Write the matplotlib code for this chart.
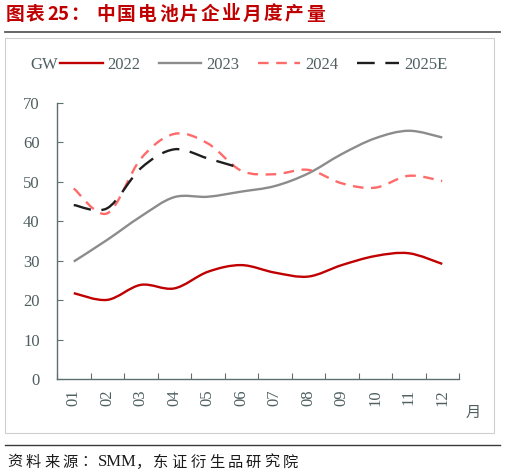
import numpy as np
import matplotlib
matplotlib.use('Agg')
import matplotlib.pyplot as plt
from matplotlib.path import Path
from matplotlib.patches import PathPatch, Rectangle
from matplotlib.lines import Line2D

plt.rcParams['font.family'] = ['Liberation Serif', 'Noto Sans CJK SC']

# data (GW)
months = ['01', '02', '03', '04', '05', '06', '07', '08', '09', '10', '11', '12']
y2022 = [21.8, 20.1, 23.9, 23.0, 27.2, 28.9, 27.0, 26.0, 28.9, 31.2, 31.9, 29.2]
y2023 = [29.8, 35.3, 41.2, 46.1, 46.2, 47.5, 48.9, 52.1, 57.0, 61.0, 62.9, 61.2]
y2024 = [48.3, 42.0, 55.8, 62.1, 59.7, 52.8, 51.9, 53.0, 49.6, 48.5, 51.5, 50.2]
y2025 = [44.1, 43.3, 53.4, 58.2, 55.9, 53.4]

title_head = ['图', '表', '25', '：']
title_body = '中国电池片企业月度产量'
source_head = '资料来源：'
source_tail = '东证衍生品研究院'

TICK_COLOR = '#4f5f5f'


def smooth_path(ys):
    # excel-style smoothed line: cubic bezier through every point
    pts = np.column_stack([np.arange(len(ys)), ys]).astype(float)
    verts = [pts[0]]
    codes = [Path.MOVETO]
    n = len(pts)
    for i in range(n - 1):
        p0 = pts[max(i - 1, 0)]
        p1 = pts[i]
        p2 = pts[i + 1]
        p3 = pts[min(i + 2, n - 1)]
        c1 = p1 + (p2 - p0) / 6.0
        c2 = p2 - (p3 - p1) / 6.0
        verts += [c1, c2, p2]
        codes += [Path.CURVE4] * 3
    return Path(verts, codes)


fig = plt.figure(figsize=(5.05, 4.76), dpi=100)
W, H = 505.0, 476.0


def ftext(x, y, s, **kw):
    # place text by pixel position (from the top-left)
    return fig.text(x / W, 1 - y / H, s, **kw)


ax = fig.add_axes([57 / W, 1 - 379.3 / H, 402 / W, 276.6 / H])

series = [
    (y2022, '2022', '#c00000', '-'),
    (y2023, '2023', '#8c8c8c', '-'),
    (y2024, '2024', '#ff6b6b', (0, (4.5, 3.2))),
    (y2025, '2025E', '#1e1e1e', (0, (7.5, 4.5))),
]
handles = []
for ys, name, col, ls in series:
    patch = PathPatch(smooth_path(ys), facecolor='none', edgecolor=col,
                      linewidth=1.7, linestyle=ls, capstyle='butt', zorder=3)
    ax.add_patch(patch)
    handles.append(Line2D([], [], color=col, linewidth=1.7, linestyle=ls, label=name))

ax.set_xlim(-0.5, 11.5)
ax.set_ylim(0, 70)
ax.set_yticks(np.arange(0, 71, 10))
ax.set_xticks(np.arange(-0.5, 12, 1))
ax.set_xticklabels([])
ax.set_xticks(np.arange(12), minor=True)
ax.set_xticklabels(months, minor=True, rotation=90)

for s in ['top', 'right']:
    ax.spines[s].set_visible(False)
for s in ['left', 'bottom']:
    ax.spines[s].set_color('#5f6f6f')
    ax.spines[s].set_linewidth(1.0)

ax.tick_params(axis='both', which='major', direction='in', length=4,
               color='#5f6f6f', labelsize=12, labelcolor=TICK_COLOR)
ax.tick_params(axis='y', pad=12.5)
ax.tick_params(axis='x', which='minor', length=0, pad=7,
               labelsize=12, labelcolor=TICK_COLOR)

# legend
ftext(30, 65, 'GW', fontsize=12, color=TICK_COLOR, va='center')
fig.legend(handles=handles, loc='center left', bbox_to_anchor=(60 / W, 1 - 65 / H),
           ncol=4, frameon=False, fontsize=12, handlelength=2.55,
           handletextpad=0.3, columnspacing=1.1, borderpad=0, borderaxespad=0,
           labelcolor=TICK_COLOR)

ftext(473, 412, '月', fontsize=11, color=TICK_COLOR,
      ha='center', va='center', family=['Noto Sans CJK SC'])

# frame, rules, title and source
fig.patches.append(Rectangle((5 / W, 1 - 433 / H), 489 / W, 395 / H,
                             transform=fig.transFigure, facecolor='none',
                             edgecolor='#cfcfcf', linewidth=0.8))
fig.add_artist(Line2D([5 / W, 500 / W], [1 - 32 / H, 1 - 32 / H],
                      transform=fig.transFigure, color='#5a5a5a', linewidth=1.3))
fig.add_artist(Line2D([5 / W, 500 / W], [1 - 445 / H, 1 - 445 / H],
                      transform=fig.transFigure, color='#3a3a3a', linewidth=1.0))

# title, spaced out like the original
title_kw = dict(fontsize=13.5, fontweight='bold', color='#c00000', va='center',
                family=['Noto Sans CJK SC'])
for s, x in zip(title_head, [6, 26, 47, 70]):
    ftext(x, 14, s, **title_kw)
for i, ch in enumerate(title_body):
    ftext(96 + 21 * i, 14, ch, **title_kw)

# source line
src_kw = dict(fontsize=11, color='#1a1a1a', va='center', family=['Noto Sans CJK SC'])
for i, ch in enumerate(source_head):
    ftext(7 + 18.5 * i, 462, ch, **src_kw)
ftext(98, 462, 'SMM', fontsize=12, color='#1a1a1a', va='center')
ftext(136, 462, '，', **src_kw)
for i, ch in enumerate(source_tail):
    ftext(153 + 18.6 * i, 462, ch, **src_kw)

fig.savefig('out.png', dpi=100)
